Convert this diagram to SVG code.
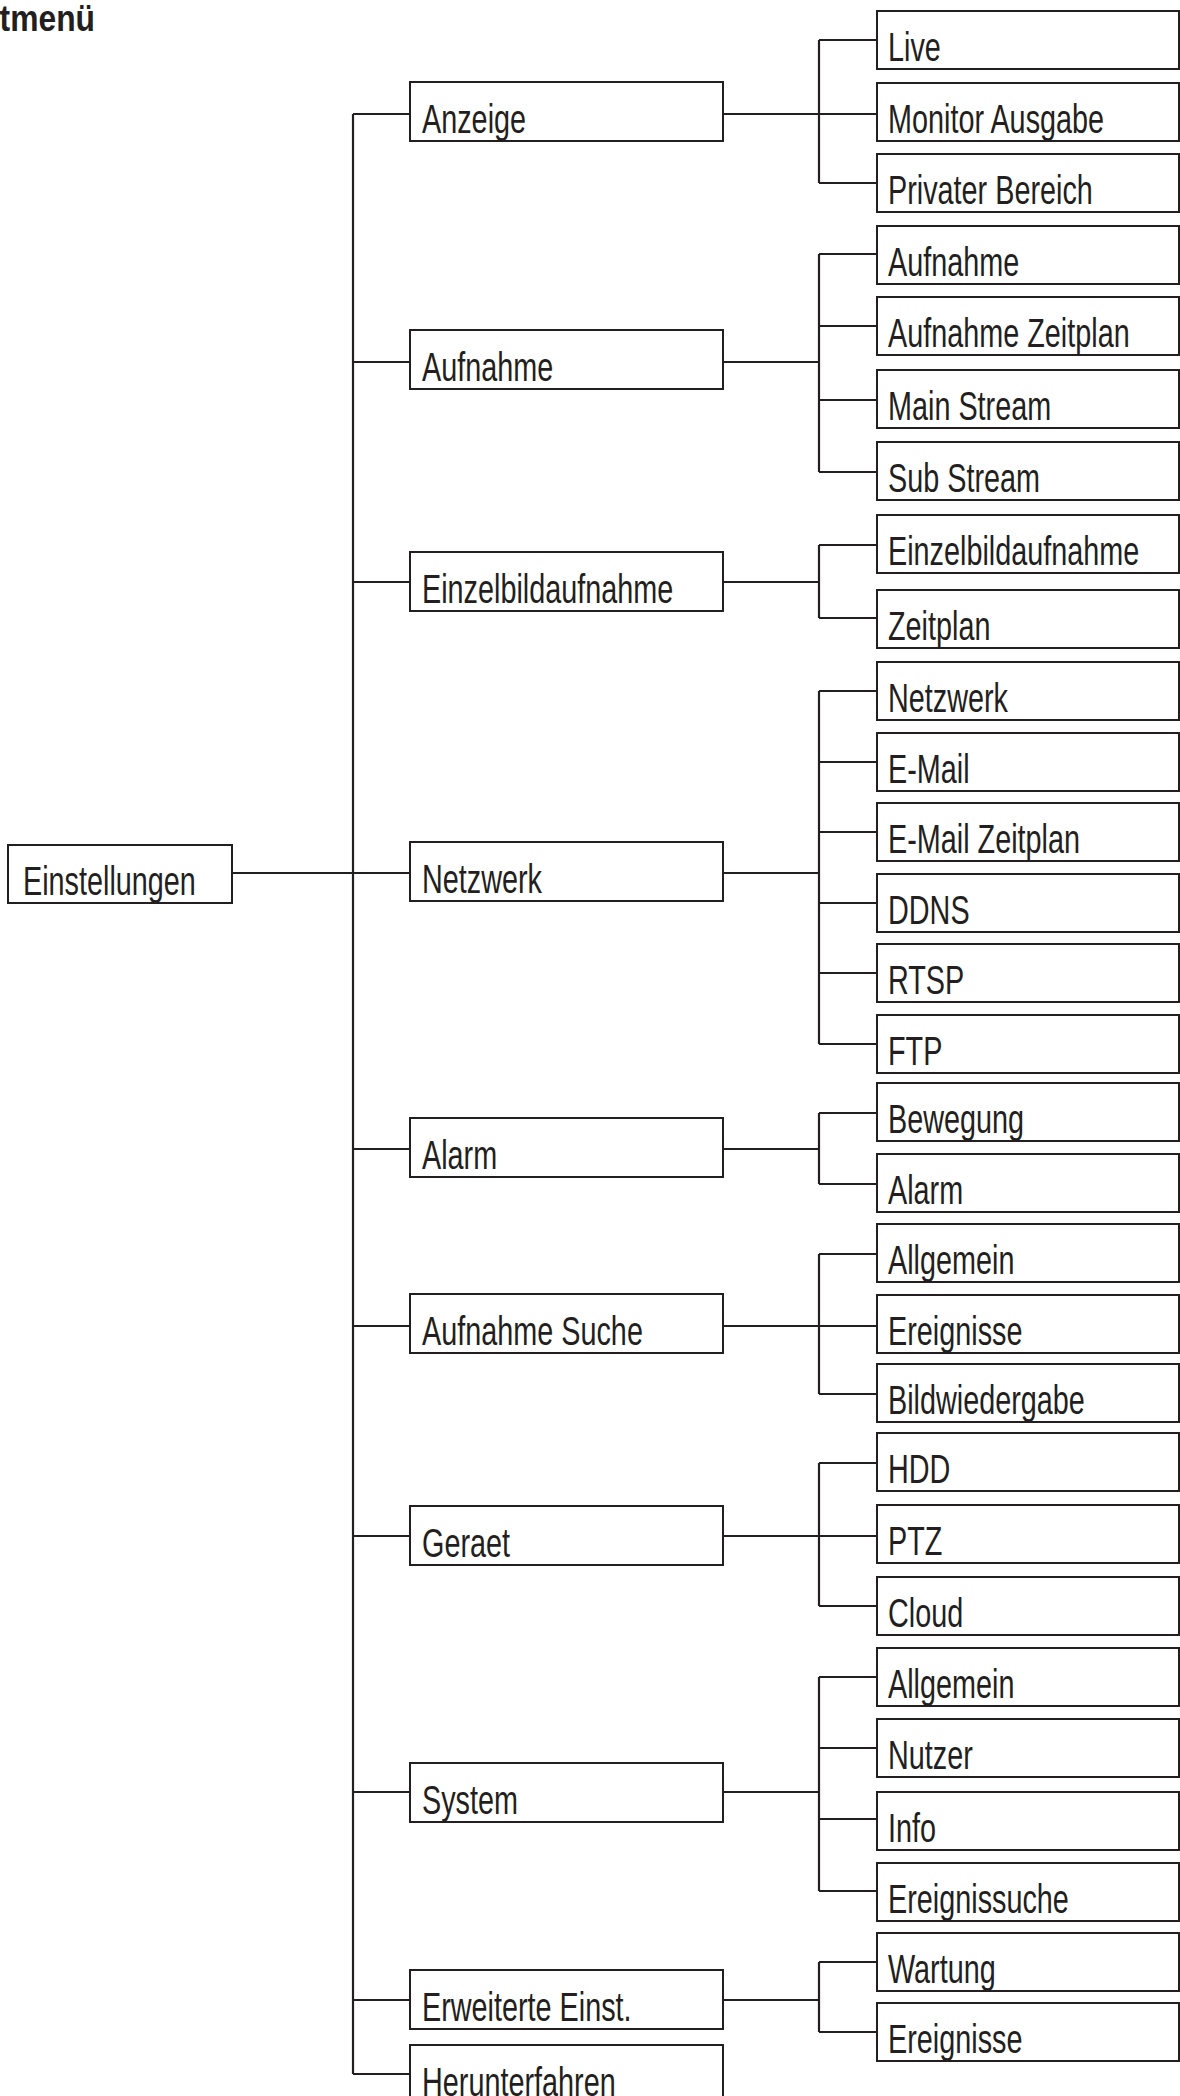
<svg xmlns="http://www.w3.org/2000/svg" width="1180" height="2096" viewBox="0 0 1180 2096">
<style>
.box{fill:#fff;stroke:#231f20;stroke-width:2}
.ln{fill:none;stroke:#231f20;stroke-width:2.2}
.lbl{font-family:"Liberation Sans",Arial,sans-serif;font-size:40px;fill:#231f20}
.ttl{font-family:"Liberation Sans",Arial,sans-serif;font-size:37px;font-weight:bold;fill:#231f20}
</style>
<rect width="1180" height="2096" fill="#fff"/>
<text class="ttl" text-anchor="end" transform="translate(95,31) scale(0.86,1)">tmenü</text>
<g id="connectors">
<path class="ln" d="M232 873H410M353 114V2074"/>
<path class="ln" d="M353 114H410M353 362H410M353 582H410M353 1149H410M353 1326H410M353 1536H410M353 1792H410M353 2000H410M353 2074H410"/>
<path class="ln" d="M723 114H819M723 362H819M723 582H819M723 873H819M723 1149H819M723 1326H819M723 1536H819M723 1792H819M723 2000H819"/>
<path class="ln" d="M819 40V183M819 254V472M819 545V618M819 691V1044M819 1113V1184M819 1254V1394M819 1463V1606M819 1677V1891M819 1962V2032"/>
<path class="ln" d="M819 40H877M819 114H877M819 183H877M819 254H877M819 326H877M819 400H877M819 472H877M819 545H877M819 618H877M819 691H877M819 762H877M819 832H877M819 903H877M819 973H877M819 1044H877M819 1113H877M819 1184H877M819 1254H877M819 1326H877M819 1394H877M819 1463H877M819 1536H877M819 1606H877M819 1677H877M819 1748H877M819 1819H877M819 1891H877M819 1962H877M819 2032H877"/>
</g>
<g id="n-einstellungen"><rect class="box" x="8" y="845" width="224" height="58"/><text class="lbl" transform="translate(23,895) scale(0.72,1)">Einstellungen</text></g>
<g id="n-anzeige"><rect class="box" x="410" y="82" width="313" height="59"/><text class="lbl" transform="translate(422,133) scale(0.72,1)">Anzeige</text></g>
<g id="n-aufnahme"><rect class="box" x="410" y="330" width="313" height="59"/><text class="lbl" transform="translate(422,381) scale(0.72,1)">Aufnahme</text></g>
<g id="n-einzelbild"><rect class="box" x="410" y="552" width="313" height="59"/><text class="lbl" transform="translate(422,603) scale(0.72,1)">Einzelbildaufnahme</text></g>
<g id="n-netzwerk"><rect class="box" x="410" y="842" width="313" height="59"/><text class="lbl" transform="translate(422,893) scale(0.72,1)">Netzwerk</text></g>
<g id="n-alarm"><rect class="box" x="410" y="1118" width="313" height="59"/><text class="lbl" transform="translate(422,1169) scale(0.72,1)">Alarm</text></g>
<g id="n-aufnahmesuche"><rect class="box" x="410" y="1294" width="313" height="59"/><text class="lbl" transform="translate(422,1345) scale(0.72,1)">Aufnahme Suche</text></g>
<g id="n-geraet"><rect class="box" x="410" y="1506" width="313" height="59"/><text class="lbl" transform="translate(422,1557) scale(0.72,1)">Geraet</text></g>
<g id="n-system"><rect class="box" x="410" y="1763" width="313" height="59"/><text class="lbl" transform="translate(422,1814) scale(0.72,1)">System</text></g>
<g id="n-erweitert"><rect class="box" x="410" y="1970" width="313" height="59"/><text class="lbl" transform="translate(422,2021) scale(0.72,1)">Erweiterte Einst.</text></g>
<g id="n-herunterfahren"><rect class="box" x="410" y="2045" width="313" height="59"/><text class="lbl" transform="translate(422,2096) scale(0.72,1)">Herunterfahren</text></g>
<g id="l-live"><rect class="box" x="877" y="11" width="302" height="58"/><text class="lbl" transform="translate(888,61) scale(0.72,1)">Live</text></g>
<g id="l-monitor"><rect class="box" x="877" y="83" width="302" height="58"/><text class="lbl" transform="translate(888,133) scale(0.72,1)">Monitor Ausgabe</text></g>
<g id="l-privat"><rect class="box" x="877" y="154" width="302" height="58"/><text class="lbl" transform="translate(888,204) scale(0.72,1)">Privater Bereich</text></g>
<g id="l-aufnahme"><rect class="box" x="877" y="226" width="302" height="58"/><text class="lbl" transform="translate(888,276) scale(0.72,1)">Aufnahme</text></g>
<g id="l-aufnahmezeitplan"><rect class="box" x="877" y="297" width="302" height="58"/><text class="lbl" transform="translate(888,347) scale(0.72,1)">Aufnahme Zeitplan</text></g>
<g id="l-mainstream"><rect class="box" x="877" y="370" width="302" height="58"/><text class="lbl" transform="translate(888,420) scale(0.72,1)">Main Stream</text></g>
<g id="l-substream"><rect class="box" x="877" y="442" width="302" height="58"/><text class="lbl" transform="translate(888,492) scale(0.72,1)">Sub Stream</text></g>
<g id="l-einzelbild"><rect class="box" x="877" y="515" width="302" height="58"/><text class="lbl" transform="translate(888,565) scale(0.72,1)">Einzelbildaufnahme</text></g>
<g id="l-zeitplan"><rect class="box" x="877" y="590" width="302" height="58"/><text class="lbl" transform="translate(888,640) scale(0.72,1)">Zeitplan</text></g>
<g id="l-netzwerk"><rect class="box" x="877" y="662" width="302" height="58"/><text class="lbl" transform="translate(888,712) scale(0.72,1)">Netzwerk</text></g>
<g id="l-email"><rect class="box" x="877" y="733" width="302" height="58"/><text class="lbl" transform="translate(888,783) scale(0.72,1)">E-Mail</text></g>
<g id="l-emailzeitplan"><rect class="box" x="877" y="803" width="302" height="58"/><text class="lbl" transform="translate(888,853) scale(0.72,1)">E-Mail Zeitplan</text></g>
<g id="l-ddns"><rect class="box" x="877" y="874" width="302" height="58"/><text class="lbl" transform="translate(888,924) scale(0.72,1)">DDNS</text></g>
<g id="l-rtsp"><rect class="box" x="877" y="944" width="302" height="58"/><text class="lbl" transform="translate(888,994) scale(0.72,1)">RTSP</text></g>
<g id="l-ftp"><rect class="box" x="877" y="1015" width="302" height="58"/><text class="lbl" transform="translate(888,1065) scale(0.72,1)">FTP</text></g>
<g id="l-bewegung"><rect class="box" x="877" y="1083" width="302" height="58"/><text class="lbl" transform="translate(888,1133) scale(0.72,1)">Bewegung</text></g>
<g id="l-alarm"><rect class="box" x="877" y="1154" width="302" height="58"/><text class="lbl" transform="translate(888,1204) scale(0.72,1)">Alarm</text></g>
<g id="l-allgemein1"><rect class="box" x="877" y="1224" width="302" height="58"/><text class="lbl" transform="translate(888,1274) scale(0.72,1)">Allgemein</text></g>
<g id="l-ereignisse1"><rect class="box" x="877" y="1295" width="302" height="58"/><text class="lbl" transform="translate(888,1345) scale(0.72,1)">Ereignisse</text></g>
<g id="l-bildwiedergabe"><rect class="box" x="877" y="1364" width="302" height="58"/><text class="lbl" transform="translate(888,1414) scale(0.72,1)">Bildwiedergabe</text></g>
<g id="l-hdd"><rect class="box" x="877" y="1433" width="302" height="58"/><text class="lbl" transform="translate(888,1483) scale(0.72,1)">HDD</text></g>
<g id="l-ptz"><rect class="box" x="877" y="1505" width="302" height="58"/><text class="lbl" transform="translate(888,1555) scale(0.72,1)">PTZ</text></g>
<g id="l-cloud"><rect class="box" x="877" y="1577" width="302" height="58"/><text class="lbl" transform="translate(888,1627) scale(0.72,1)">Cloud</text></g>
<g id="l-allgemein2"><rect class="box" x="877" y="1648" width="302" height="58"/><text class="lbl" transform="translate(888,1698) scale(0.72,1)">Allgemein</text></g>
<g id="l-nutzer"><rect class="box" x="877" y="1719" width="302" height="58"/><text class="lbl" transform="translate(888,1769) scale(0.72,1)">Nutzer</text></g>
<g id="l-info"><rect class="box" x="877" y="1792" width="302" height="58"/><text class="lbl" transform="translate(888,1842) scale(0.72,1)">Info</text></g>
<g id="l-ereignissuche"><rect class="box" x="877" y="1863" width="302" height="58"/><text class="lbl" transform="translate(888,1913) scale(0.72,1)">Ereignissuche</text></g>
<g id="l-wartung"><rect class="box" x="877" y="1933" width="302" height="58"/><text class="lbl" transform="translate(888,1983) scale(0.72,1)">Wartung</text></g>
<g id="l-ereignisse2"><rect class="box" x="877" y="2003" width="302" height="58"/><text class="lbl" transform="translate(888,2053) scale(0.72,1)">Ereignisse</text></g>
</svg>
